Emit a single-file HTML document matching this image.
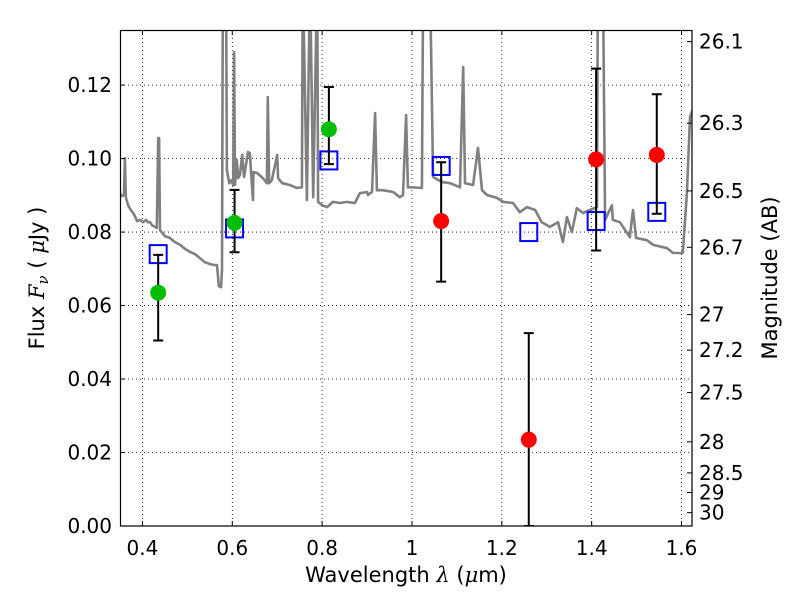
<!DOCTYPE html>
<html><head><meta charset="utf-8"><style>
body{margin:0;background:#fff;}
svg{display:block;font-family:"DejaVu Sans","Liberation Sans",sans-serif;}
</style></head><body>
<svg id="chart" width="800" height="600" xmlns="http://www.w3.org/2000/svg">
<defs><clipPath id="clip"><rect x="120" y="30" width="572" height="496"/></clipPath></defs>
<rect x="0" y="0" width="800" height="600" fill="#fff"/>
<g id="grid"></g>
<g id="spec" clip-path="url(#clip)"></g>
<g id="marks" clip-path="url(#clip)"></g>
<rect x="120.5" y="30.5" width="571.5" height="495.5" fill="none" stroke="#000" stroke-width="1.2"/>
<g id="axes"></g>
<text x="406" y="582" font-size="21" text-anchor="middle">Wavelength  <tspan font-style="italic" font-family="'DejaVu Serif',serif">λ</tspan> (<tspan font-style="italic" font-family="'DejaVu Serif',serif">μ</tspan>m)</text>
<text transform="translate(44,278) rotate(-90)" font-size="21" text-anchor="middle">Flux  <tspan font-style="italic" font-family="'DejaVu Serif',serif">F</tspan><tspan font-style="italic" font-size="15" dy="4" font-family="'DejaVu Serif',serif">ν</tspan><tspan dy="-4">  ( </tspan><tspan font-style="italic" font-family="'DejaVu Serif',serif">μ</tspan>Jy )</text>
<text transform="translate(777,278) rotate(-90)" font-size="21" text-anchor="middle">Magnitude (AB)</text>
</svg>
<script>
const xTicks=[0.4,0.6,0.8,1.0,1.2,1.4,1.6];
const xTickLabels=["0.4","0.6","0.8","1","1.2","1.4","1.6"];
const yTicks=[0,0.02,0.04,0.06,0.08,0.10,0.12];
const yTickLabels=["0.00","0.02","0.04","0.06","0.08","0.10","0.12"];
const magTicks=[26.1,26.3,26.5,26.7,27,27.2,27.5,28,28.5,29,30];
const magTickLabels=["26.1","26.3","26.5","26.7","27","27.2","27.5","28","28.5","29","30"];
const specWave=[0.350,0.354,0.359,0.361,0.363,0.368,0.374,0.381,0.388,0.395,0.401,0.408,0.412,0.417,0.421,0.428,0.432,0.435,0.437,0.439,0.450,0.461,0.472,0.484,0.495,0.506,0.517,0.528,0.539,0.550,0.561,0.566,0.568,0.570,0.575,0.577,0.579,0.586,0.588,0.593,0.597,0.602,0.604,0.606,0.610,0.613,0.617,0.622,0.626,0.635,0.639,0.646,0.647,0.655,0.668,0.677,0.679,0.682,0.688,0.700,0.702,0.711,0.728,0.744,0.755,0.757,0.766,0.773,0.780,0.789,0.791,0.800,0.811,0.824,0.840,0.855,0.873,0.884,0.900,0.902,0.911,0.918,0.922,0.935,0.958,0.973,0.980,0.987,0.991,1.000,1.022,1.025,1.040,1.047,1.067,1.085,1.107,1.114,1.118,1.136,1.147,1.156,1.167,1.189,1.203,1.225,1.240,1.256,1.274,1.289,1.307,1.325,1.336,1.345,1.356,1.367,1.381,1.396,1.412,1.414,1.425,1.430,1.445,1.447,1.463,1.485,1.492,1.499,1.523,1.537,1.568,1.581,1.603,1.612,1.619,1.630];
const specFlux=[0.0906,0.0898,0.0901,0.1001,0.0895,0.0873,0.0860,0.0849,0.0830,0.0833,0.0827,0.0833,0.0827,0.0827,0.0819,0.0814,0.0811,0.1056,0.1056,0.0805,0.0789,0.0784,0.0773,0.0765,0.0754,0.0746,0.0740,0.0729,0.0718,0.0713,0.0710,0.0710,0.0683,0.0653,0.0650,0.0697,0.15,0.15,0.0969,0.0933,0.0941,0.0928,0.1290,0.0928,0.0996,0.0947,0.0955,0.1010,0.0950,0.1018,0.1015,0.0887,0.0963,0.0961,0.0947,0.0933,0.1167,0.0933,0.0941,0.1010,0.0947,0.0933,0.0928,0.0920,0.0922,0.15,0.0887,0.15,0.0895,0.15,0.0882,0.0873,0.0868,0.0882,0.0879,0.0882,0.0879,0.0906,0.0909,0.0901,0.0909,0.1124,0.0914,0.0914,0.0909,0.0895,0.0901,0.1118,0.0922,0.0922,0.0920,0.15,0.15,0.0950,0.0936,0.0933,0.0922,0.1249,0.0933,0.0928,0.1029,0.0914,0.0901,0.0893,0.0882,0.0879,0.0854,0.0868,0.0860,0.0827,0.0814,0.0827,0.0773,0.0841,0.0800,0.0865,0.0852,0.0860,0.0868,0.15,0.15,0.0833,0.0873,0.0833,0.0827,0.0786,0.0860,0.0784,0.0778,0.0765,0.0756,0.0743,0.0743,0.0906,0.1113,0.115];
const greenWave=[0.435,0.605,0.815];
const greenFlux=[0.0635,0.0825,0.108];
const greenErrLo=[0.0505,0.0745,0.0985];
const greenErrHi=[0.0738,0.0915,0.1195];
const blueWave=[0.435,0.605,0.815,1.065,1.26,1.41,1.545];
const blueFlux=[0.074,0.081,0.0995,0.098,0.080,0.083,0.0855];
const redWave=[1.065,1.26,1.41,1.545];
const redFlux=[0.083,0.0235,0.0998,0.101];
const redErrLo=[0.0665,0,0.075,0.085];
const redErrHi=[0.099,0.0525,0.1245,0.1175];

const X0=120,X1=692,Y0=526,Y1=30,XMIN=0.35,XMAX=1.6234,YMIN=0,YMAX=0.135;
function sx(v){return X0+(v-XMIN)/(XMAX-XMIN)*(X1-X0);}
function sy(v){return Y0-(v-YMIN)/(YMAX-YMIN)*(Y0-Y1);}
function magToFlux(m){return Math.pow(10,(23.9-m)/2.5);}
const NS="http://www.w3.org/2000/svg";
function mk(tag,attrs,parent){const e=document.createElementNS(NS,tag);for(const k in attrs)e.setAttribute(k,attrs[k]);parent.appendChild(e);return e;}
const grid=document.getElementById('grid'),axes=document.getElementById('axes'),spec=document.getElementById('spec'),marks=document.getElementById('marks');
xTicks.forEach((t,i)=>{const x=sx(t);
 const g=mk('line',{x1:x,x2:x,y1:Y1,y2:Y0,stroke:'#000','stroke-width':0.8,'stroke-dasharray':'1,3'},grid);
 
 
 mk('line',{x1:x,x2:x,y1:Y0,y2:Y0-5,stroke:'#000','stroke-width':1},axes);
 mk('line',{x1:x,x2:x,y1:Y1,y2:Y1+5,stroke:'#000','stroke-width':1},axes);
 const l=mk('text',{x:x,y:555,'font-size':20,'text-anchor':'middle'},axes);l.textContent=xTickLabels[i];
 
 
});
yTicks.forEach((t,i)=>{const y=sy(t);
 const g=mk('line',{x1:X0,x2:X1,y1:y,y2:y,stroke:'#000','stroke-width':0.8,'stroke-dasharray':'1,3'},grid);
 
 
 mk('line',{x1:X0,x2:X0+5,y1:y,y2:y,stroke:'#000','stroke-width':1},axes);
 const l=mk('text',{x:112,y:y+7,'font-size':20,'text-anchor':'end'},axes);l.textContent=yTickLabels[i];
 
 
});
magTicks.forEach((m,i)=>{const y=sy(magToFlux(m));
 mk('line',{x1:X1,x2:X1-5,y1:y,y2:y,stroke:'#000','stroke-width':1},axes);
 const l=mk('text',{x:699,y:y+7,'font-size':20,'text-anchor':'start'},axes);l.textContent=magTickLabels[i];
 
 
});
let d='';specWave.forEach((w,i)=>{d+=(i?'L':'M')+sx(w).toFixed(1)+','+sy(specFlux[i]).toFixed(1);});
const p=mk('path',{d:d,fill:'none',stroke:'#808080','stroke-width':2.6,'stroke-linejoin':'round'},spec);


function errbar(w,lo,hi){const x=sx(w);
 const e=mk('path',{d:`M${x},${sy(lo)}V${sy(hi)}M${x-5},${sy(lo)}H${x+5}M${x-5},${sy(hi)}H${x+5}`,stroke:'#000','stroke-width':2,fill:'none'},marks);
 
 }
blueWave.forEach((w,i)=>{const r=mk('rect',{x:sx(w)-8.5,y:sy(blueFlux[i])-9,width:17,height:18,fill:'none',stroke:'#0000ff','stroke-width':2},marks);
 
 });
greenWave.forEach((w,i)=>{errbar(w,greenErrLo[i],greenErrHi[i]);
 const c=mk('circle',{cx:sx(w),cy:sy(greenFlux[i]),r:8,fill:'#00bf00'},marks);
 
 });
redWave.forEach((w,i)=>{errbar(w,redErrLo[i],redErrHi[i]);
 const c=mk('circle',{cx:sx(w),cy:sy(redFlux[i]),r:8,fill:'#ff0000'},marks);
 
 });
</script>
</body></html>
